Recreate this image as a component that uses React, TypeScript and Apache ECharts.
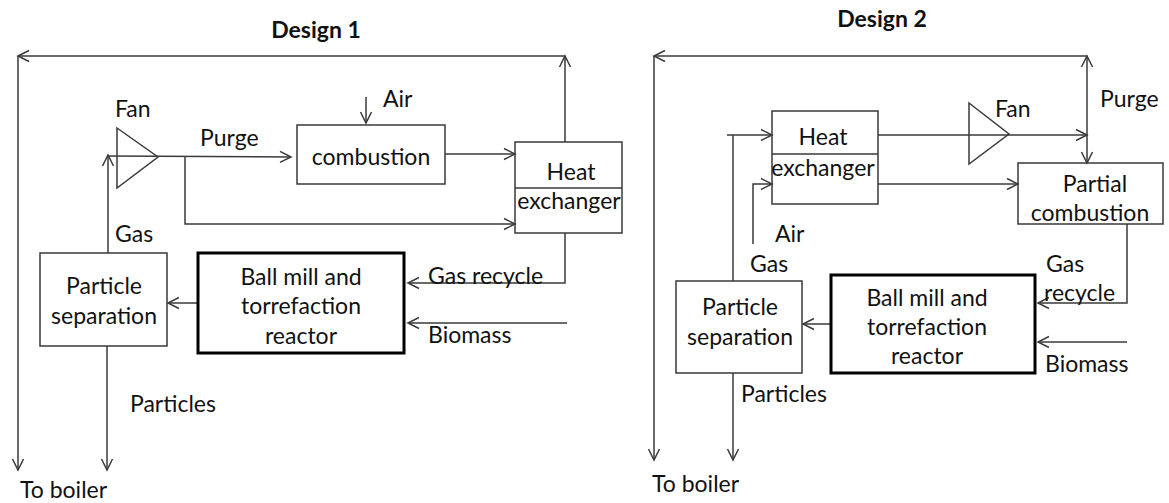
import React, { useEffect, useRef } from "react";
import * as echarts from "echarts";

// ---- texts ----
const titles = ["Design 1", "Design 2"];
const reactorLines = ["Ball mill and", "torrefaction", "reactor"];
const separatorLines = ["Particle", "separation"];
const heatExchangerLines = ["Heat", "exchanger"];
const combustionLabel = ["combustion"];
const partialCombustionLines = ["Partial", "combustion"];
const streamLabels1 = ["Fan", "Purge", "Air", "Gas", "Gas recycle", "Biomass", "Particles", "To boiler"];
const streamLabels2 = ["Fan", "Purge", "Air", "Gas", "Gas", "recycle", "Biomass", "Particles", "To boiler"];

// ---- styling ----
const LINE = "#3a3a3a";
const TXT = "#111111";
const FONT_FAMILY = "Lato, 'Noto Sans', sans-serif";
const FS = 23;

type P = [number, number];

const lineStyle = { stroke: LINE, lineWidth: 1.5, fill: "none" };

function head(tip: P, from: P) {
  const dx = tip[0] - from[0];
  const dy = tip[1] - from[1];
  const len = Math.hypot(dx, dy);
  const ux = dx / len;
  const uy = dy / len;
  const L = 11;
  const Wd = 5.5;
  const bx = tip[0] - ux * L;
  const by = tip[1] - uy * L;
  return {
    type: "polyline",
    shape: { points: [[bx - uy * Wd, by + ux * Wd], tip, [bx + uy * Wd, by - ux * Wd]] },
    style: { ...lineStyle },
    silent: true,
  };
}

function arrow(points: P[], withHead = true) {
  const els: any[] = [{ type: "polyline", shape: { points }, style: { ...lineStyle }, silent: true }];
  if (withHead) els.push(head(points[points.length - 1], points[points.length - 2]));
  return els;
}

function box(x: number, y: number, w: number, h: number, lw = 1.5, stroke = LINE) {
  return {
    type: "rect",
    shape: { x, y, width: w, height: h },
    style: { fill: "none", stroke, lineWidth: lw },
    silent: true,
  };
}

function txt(text: string, x: number, y: number, align = "center", bold = false) {
  return {
    type: "text",
    x,
    y,
    silent: true,
    style: {
      text,
      font: `${bold ? "bold " : ""}${FS}px ${FONT_FAMILY}`,
      fill: TXT,
      align,
      textAlign: align,
      verticalAlign: "middle",
      textVerticalAlign: "middle",
    },
  };
}

function buildElements() {
  const els: any[] = [];

  // ================= Design 1 =================
  els.push(txt(titles[0], 316, 29, "center", true));
  // outer loop
  els.push(...arrow([[565, 142], [565, 56]]));
  els.push(...arrow([[565, 56], [18, 56]]));
  els.push(...arrow([[18, 56], [18, 470]]));
  // gas up to fan
  els.push(...arrow([[108, 253], [108, 155]]));
  // purge to combustion
  els.push(...arrow([[108, 156], [291, 157]]));
  // branch to heat exchanger
  els.push(...arrow([[185, 157], [185, 224], [515, 224]]));
  // air
  els.push(...arrow([[366, 97], [366, 123]]));
  // combustion -> HX
  els.push(...arrow([[445, 154], [515, 154]]));
  // HX -> gas recycle
  els.push(...arrow([[565, 233], [565, 283], [408, 283]]));
  // biomass
  els.push(...arrow([[567, 323], [408, 323]]));
  // reactor -> separation
  els.push(...arrow([[198, 303], [168, 303]]));
  // particles
  els.push(...arrow([[107, 346], [107, 470]]));

  // boxes
  els.push(box(297, 125, 148, 59));
  els.push(box(515, 142, 107, 91));
  els.push({ type: "line", shape: { x1: 515, y1: 188, x2: 622, y2: 188 }, style: { ...lineStyle }, silent: true });
  els.push(box(198, 253, 206, 100, 3, "#000"));
  els.push(box(40, 253, 127, 93));
  // fan
  els.push({
    type: "polygon",
    shape: { points: [[117, 128], [158, 157], [117, 188]] },
    style: { fill: "none", stroke: LINE, lineWidth: 1.5 },
    silent: true,
  });

  // texts
  els.push(txt(streamLabels1[0], 115, 108, "left"));
  els.push(txt(streamLabels1[1], 200, 137, "left"));
  els.push(txt(streamLabels1[2], 383, 98, "left"));
  els.push(txt(combustionLabel[0], 371, 156));
  els.push(txt(heatExchangerLines[0], 571, 171));
  els.push(txt(heatExchangerLines[1], 569, 200));
  els.push(txt(streamLabels1[3], 115, 233, "left"));
  els.push(txt(streamLabels1[4], 428, 275, "left"));
  els.push(txt(streamLabels1[5], 428, 334, "left"));
  els.push(txt(reactorLines[0], 301, 276));
  els.push(txt(reactorLines[1], 301, 305));
  els.push(txt(reactorLines[2], 301, 335));
  els.push(txt(separatorLines[0], 104, 285));
  els.push(txt(separatorLines[1], 104, 315));
  els.push(txt(streamLabels1[6], 130, 403, "left"));
  els.push(txt(streamLabels1[7], 20, 489, "left"));

  // ================= Design 2 =================
  els.push(txt(titles[1], 882, 18, "center", true));
  // outer loop
  els.push(...arrow([[1087, 135], [1087, 56]]));
  els.push(...arrow([[1087, 56], [654, 56]]));
  els.push(...arrow([[654, 56], [654, 460]]));
  // purge down to partial combustion
  els.push(...arrow([[1087, 135], [1087, 163]]));
  // HX -> fan -> purge junction
  els.push(...arrow([[878, 135], [1087, 135]]));
  // HX lower -> partial combustion
  els.push(...arrow([[878, 184], [1018, 184]]));
  // gas inlet
  els.push(...arrow([[733, 281], [733, 135]], false));
  els.push(...arrow([[727, 135], [772, 135]]));
  // air inlet
  els.push(...arrow([[753, 244], [753, 184], [772, 184]]));
  // partial combustion -> gas recycle
  els.push(...arrow([[1127, 224], [1127, 303], [1038, 303]]));
  // biomass
  els.push(...arrow([[1127, 342], [1038, 342]]));
  // reactor -> separation
  els.push(...arrow([[831, 324], [803, 324]]));
  // particles
  els.push(...arrow([[733, 373], [733, 460]]));

  // boxes
  els.push(box(772, 111, 106, 93));
  els.push({ type: "line", shape: { x1: 772, y1: 154, x2: 878, y2: 154 }, style: { ...lineStyle }, silent: true });
  els.push(box(1018, 163, 145, 61));
  els.push(box(831, 275, 204, 98, 3, "#000"));
  els.push(box(676, 281, 126, 92));
  // fan
  els.push({
    type: "polygon",
    shape: { points: [[969, 103], [1009, 134], [969, 164]] },
    style: { fill: "none", stroke: LINE, lineWidth: 1.5 },
    silent: true,
  });

  // texts
  els.push(txt(heatExchangerLines[0], 823, 136));
  els.push(txt(heatExchangerLines[1], 823, 167));
  els.push(txt(streamLabels2[0], 995, 108, "left"));
  els.push(txt(streamLabels2[1], 1100, 98, "left"));
  els.push(txt(partialCombustionLines[0], 1095, 183));
  els.push(txt(partialCombustionLines[1], 1090, 212));
  els.push(txt(streamLabels2[2], 775, 233, "left"));
  els.push(txt(streamLabels2[3], 750, 263, "left"));
  els.push(txt(streamLabels2[4], 1046, 263, "left"));
  els.push(txt(streamLabels2[5], 1044, 292, "left"));
  els.push(txt(streamLabels2[6], 1045, 363, "left"));
  els.push(txt(reactorLines[0], 927, 297));
  els.push(txt(reactorLines[1], 927, 326));
  els.push(txt(reactorLines[2], 927, 355));
  els.push(txt(separatorLines[0], 740, 306));
  els.push(txt(separatorLines[1], 740, 336));
  els.push(txt(streamLabels2[7], 741, 393, "left"));
  els.push(txt(streamLabels2[8], 652, 483, "left"));

  return els;
}

export default function App() {
  const ref = useRef<HTMLDivElement>(null);
  useEffect(() => {
    if (!ref.current) return;
    const chart = echarts.init(ref.current, null, { renderer: "svg" });
    chart.setOption({
      animation: false,
      backgroundColor: "#ffffff",
      graphic: { elements: buildElements() },
    });
    return () => chart.dispose();
  }, []);
  return (
    <div
      ref={ref}
      style={{ position: "fixed", left: 0, top: 0, width: 1169, height: 503, background: "#fff" }}
    />
  );
}
